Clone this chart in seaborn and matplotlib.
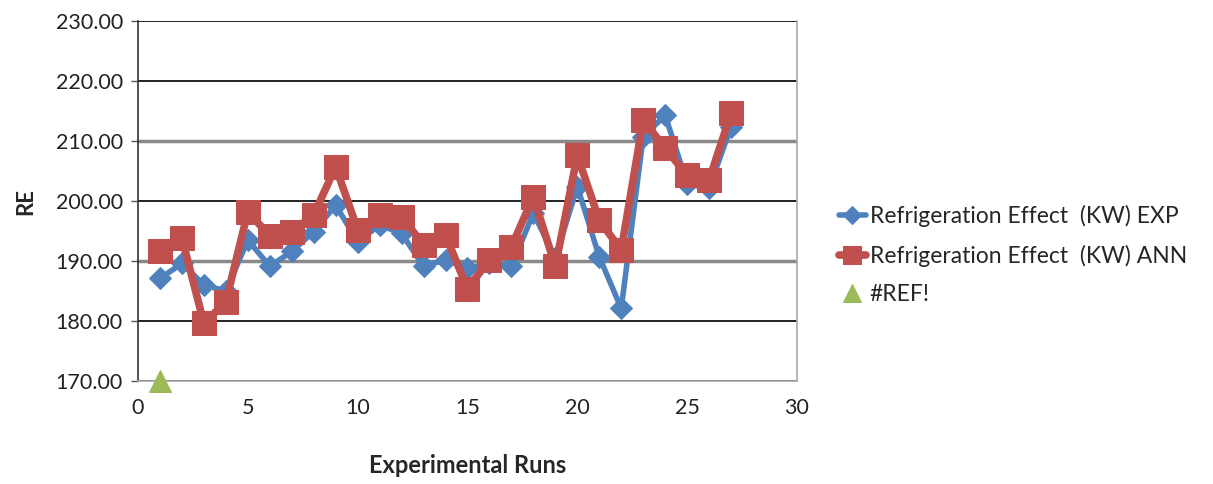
import matplotlib
matplotlib.use("Agg")
import matplotlib.pyplot as plt
import seaborn as sns
import numpy as np

runs = list(range(1, 28))
re_exp = [187.1, 189.6, 186.0, 185.0, 193.5, 189.1, 191.6, 194.9, 199.3, 193.2,
          196.0, 194.6, 189.1, 190.2, 188.8, 189.6, 189.1, 198.0, 190.5, 202.4,
          190.7, 182.1, 210.7, 214.3, 202.9, 202.1, 212.4]
re_ann = [191.6, 193.8, 179.6, 183.2, 198.2, 194.2, 194.9, 197.7, 205.7, 195.2,
          197.7, 197.4, 192.7, 194.3, 185.4, 190.2, 192.4, 200.7, 189.1, 207.6,
          196.8, 191.8, 213.5, 208.8, 204.3, 203.5, 214.6]
ref_x = [1]
ref_y = [170.0]

labels = ["Refrigeration Effect  (KW) EXP", "Refrigeration Effect  (KW) ANN", "#REF!"]
yticks = [170, 180, 190, 200, 210, 220, 230]
xticks = [0, 5, 10, 15, 20, 25, 30]

sns.set_style("white")
plt.rcParams['font.family'] = ['Lato', 'DejaVu Sans']

fig = plt.figure(figsize=(12.13, 4.84), dpi=100)
ax = fig.add_axes([0.1138, 0.2128, 0.5432, 0.7438])

blue = "#4F81BD"
red = "#C0504D"
green = "#9BBB59"

sns.lineplot(x=runs, y=re_exp, ax=ax, color=blue, linewidth=4, marker="D",
             markersize=11, markeredgecolor=blue, label=labels[0], zorder=3)
sns.lineplot(x=runs, y=re_ann, ax=ax, color=red, linewidth=5.5, marker="s",
             markersize=17, markeredgecolor=red, label=labels[1], zorder=4)
sns.lineplot(x=ref_x, y=ref_y, ax=ax, color=green, linewidth=0, marker="^",
             markersize=16, markeredgecolor=green, label=labels[2], zorder=5,
             clip_on=False)

ax.set_xlim(0, 30)
ax.set_ylim(170, 230)
ax.set_xticks(xticks)
ax.set_yticks(yticks)
ax.set_yticklabels([f"{v:.2f}" for v in yticks], fontsize=15.5, color="#222222")
ax.set_xticklabels([str(v) for v in xticks], fontsize=15.5, color="#222222")
ax.tick_params(axis="y", length=5, width=1, color="#555555", left=True, pad=6)
ax.tick_params(axis="x", length=0, pad=12)

ax.set_axisbelow(True)
ax.yaxis.grid(True)
for v, gl in zip(yticks, ax.get_ygridlines()):
    if v in (190, 210):
        gl.set_color("#8a8a8a")
        gl.set_linewidth(2.5)
    else:
        gl.set_color("#111111")
        gl.set_linewidth(1.3)

ax.spines["left"].set_color("#333333")
ax.spines["left"].set_linewidth(1.2)
for side in ["bottom", "right"]:
    ax.spines[side].set_color("#aaaaaa")
    ax.spines[side].set_linewidth(1.2)
ax.spines["top"].set_visible(False)

ax.set_ylabel("RE", fontsize=16, fontweight="bold", labelpad=14)
ax.set_xlabel("Experimental Runs", fontsize=17, fontweight="bold", labelpad=26)

leg = ax.legend(loc="center left", bbox_to_anchor=(1.032, 0.35), frameon=False,
                fontsize=16.5, handlelength=1.2, handletextpad=0.15,
                labelspacing=0.75, markerscale=0.8)

fig.savefig("out.png", dpi=100)
